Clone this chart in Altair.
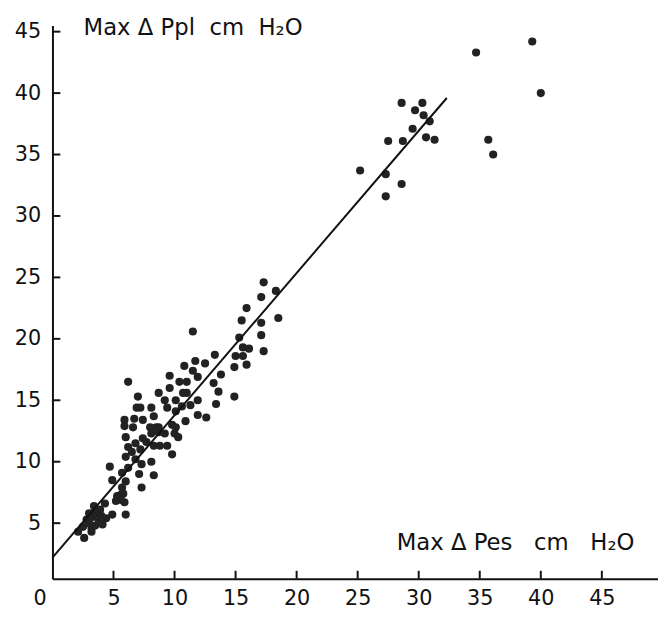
import altair as alt
import pandas as pd

# Max delta Pes (x) and Max delta Ppl (y), cm H2O
pes = [
    34.7, 39.3, 40.0, 28.6, 30.3, 29.7, 30.4, 30.9, 29.5, 27.5, 28.7, 30.6, 31.3, 35.7, 36.1,
    25.2, 27.3, 28.6, 27.3,
    17.3, 18.3, 17.1, 15.9, 15.5, 17.1, 18.5,
    11.5, 15.3, 15.6, 16.1, 17.1, 17.3, 13.3, 15.0, 15.6, 11.7, 10.8, 12.5, 14.9, 15.9, 11.5, 13.8, 11.9,
    6.2, 9.6, 10.4, 11.0, 13.2, 9.6, 8.7, 10.7, 11.0, 13.6, 7.0, 9.2, 10.1, 11.9, 14.9, 13.4,
    6.9, 7.2, 8.1, 9.4, 10.6, 11.3, 10.1, 8.3, 11.9, 12.6, 5.9, 6.7, 7.4, 10.9,
    5.9, 6.6, 8.0, 8.5, 8.7, 9.8, 10.1, 9.2, 8.7, 8.1, 10.0, 6.0, 7.4, 7.7, 10.3,
    6.8, 8.3, 8.8, 9.4, 6.2, 6.5, 7.2, 9.8, 6.0, 6.8, 8.1, 7.3, 4.7, 6.2, 5.7, 7.1, 8.3,
    4.9, 6.0, 5.7, 7.3, 5.6, 5.8, 5.6, 5.9, 3.4, 3.7, 4.9, 6.0, 5.2, 5.3, 4.3,
    2.1, 2.6, 3.2, 3.0, 3.3, 3.5, 3.6, 3.8, 4.0, 3.2, 2.8, 4.1, 3.5, 3.9, 3.0, 4.4, 2.5,
]
ppl = [
    43.3, 44.2, 40.0, 39.2, 39.2, 38.6, 38.2, 37.7, 37.1, 36.1, 36.1, 36.4, 36.2, 36.2, 35.0,
    33.7, 33.4, 32.6, 31.6,
    24.6, 23.9, 23.4, 22.5, 21.5, 21.3, 21.7,
    20.6, 20.1, 19.3, 19.2, 20.3, 19.0, 18.7, 18.6, 18.6, 18.2, 17.8, 18.0, 17.7, 17.9, 17.4, 17.1, 16.9,
    16.5, 17.0, 16.5, 16.5, 16.4, 16.0, 15.6, 15.6, 15.6, 15.7, 15.3, 15.0, 15.0, 15.0, 15.3, 14.7,
    14.4, 14.4, 14.4, 14.4, 14.5, 14.6, 14.1, 13.7, 13.8, 13.6, 13.4, 13.5, 13.4, 13.3,
    12.9, 12.8, 12.8, 12.8, 12.8, 13.0, 12.8, 12.3, 12.4, 12.3, 12.3, 12.0, 11.9, 11.6, 12.0,
    11.5, 11.3, 11.3, 11.3, 11.2, 10.8, 11.0, 10.6, 10.4, 10.2, 10.0, 9.8, 9.6, 9.5, 9.1, 9.0, 8.9,
    8.5, 8.4, 7.9, 7.9, 7.3, 7.4, 6.9, 6.7, 6.4, 6.0, 5.7, 5.7, 6.8, 7.2, 6.6,
    4.3, 3.8, 4.3, 5.0, 5.5, 4.8, 5.8, 5.2, 5.6, 4.6, 5.3, 4.9, 6.0, 6.1, 5.8, 5.4, 4.7,
]

# regression line end points
line_pes = [0.0, 32.3]
line_ppl = [2.2, 39.6]

x_label_values = [0, 5, 10, 15, 20, 25, 30, 35, 40, 45]
x_tick_values = [5, 10, 15, 20, 25, 30, 35, 40, 45]
y_tick_values = [5, 10, 15, 20, 25, 30, 35, 40, 45]

NB = "\u00a0"
x_title = f"Max Δ Pes{NB}{NB} cm{NB}{NB} H₂O"
y_title = f"Max Δ Ppl{NB} cm{NB} H₂O"

X_DOMAIN = [0, 49.6]
Y_DOMAIN = [0.48, 45.5]
W, H = 613, 560
FONT = "DejaVu Sans"
INK = "#111111"

xs = alt.Scale(domain=X_DOMAIN, nice=False, zero=False)
ys = alt.Scale(domain=Y_DOMAIN, nice=False, zero=False)

x_axis = alt.Axis(
    values=x_label_values, title=x_title, ticks=False, grid=False,
    domainColor=INK, domainWidth=2,
    labelFont=FONT, labelFontSize=21, labelColor=INK, labelPadding=9,
    labelFlush=False, labelOverlap=False,
    labelOffset={"condition": {"test": "datum.value == 0", "value": -13}, "value": 0},
    titleFont=FONT, titleFontSize=23, titleFontWeight="normal", titleColor=INK,
    titleAlign="left", titleBaseline="alphabetic", titleX=348, titleY=-30,
)
y_axis = alt.Axis(
    values=y_tick_values, title=y_title, ticks=False, grid=False,
    domainColor=INK, domainWidth=2,
    labelFont=FONT, labelFontSize=21, labelColor=INK, labelPadding=12,
    labelFlush=False, labelOverlap=False,
    titleFont=FONT, titleFontSize=23, titleFontWeight="normal", titleColor=INK,
    titleAngle=0, titleAlign="left", titleBaseline="alphabetic", titleX=31, titleY=9,
)

pts = pd.DataFrame({"pes": pes, "ppl": ppl})
line_df = pd.DataFrame({"pes": line_pes, "ppl": line_ppl})
xt = pd.DataFrame({"pes": x_tick_values})
yt = pd.DataFrame({"ppl": y_tick_values})

X = alt.X("pes:Q", scale=xs, axis=x_axis)
Y = alt.Y("ppl:Q", scale=ys, axis=y_axis)

points = alt.Chart(pts).mark_circle(size=68, color="#222222", opacity=1).encode(x=X, y=Y)
line = alt.Chart(line_df).mark_line(color=INK, strokeWidth=2).encode(x=X, y=Y)
xticks = alt.Chart(xt).mark_rule(color=INK, strokeWidth=2).encode(
    x=X, y=alt.value(H), y2=alt.value(H - 8),
)
yticks = alt.Chart(yt).mark_rule(color=INK, strokeWidth=2).encode(
    y=Y, x=alt.value(0), x2=alt.value(8),
)

chart = alt.layer(points, line, xticks, yticks).properties(
    width=W, height=H,
    padding={"left": 45, "top": 14, "right": 0, "bottom": 31},
    autosize=alt.AutoSizeParams(type="none"),
    background="white",
).configure_view(stroke=None)

chart.save("out.html", embed_options={"renderer": "svg", "actions": False})
